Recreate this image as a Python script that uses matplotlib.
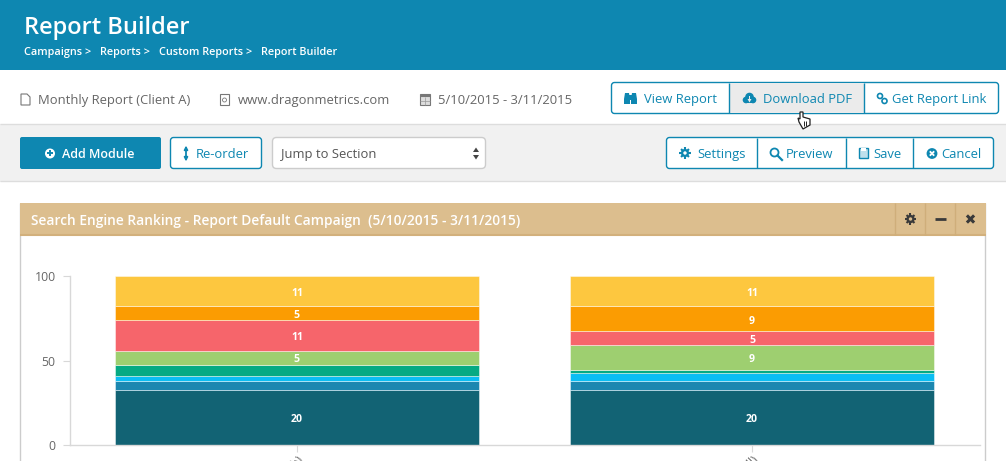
import matplotlib
matplotlib.use("Agg")
import matplotlib.pyplot as plt
from matplotlib.patches import Rectangle, FancyBboxPatch, Circle, Polygon
import numpy as np

W, H = 1006, 461
plt.rcParams['font.family'] = ['Open Sans', 'DejaVu Sans']

categories = ['(Both)', '(All)']
series_counts = [
    [20, 20], [3, 3], [2, 3], [4, 1], [5, 9], [11, 5], [5, 9], [11, 11],
]
series_colors = ['#126374', '#1b87b0', '#0abdf3', '#06aa83', '#9ecf70', '#f6656b', '#fb9c02', '#fdc73f']
y_ticks = [0, 50, 100]

BLUE = '#0e87b1'
fig = plt.figure(figsize=(W/100, H/100), dpi=100, facecolor='white')
ui = fig.add_axes([0, 0, 1, 1])
ui.set_xlim(0, W); ui.set_ylim(H, 0); ui.axis('off')

def rect(x, y, w, h, fc, ec='none', lw=0, z=1):
    ui.add_patch(Rectangle((x, y), w, h, fc=fc, ec=ec, lw=lw, zorder=z))
def rrect(x, y, w, h, fc, ec='none', lw=1, r=3, z=2):
    ui.add_patch(FancyBboxPatch((x+r, y+r), w-2*r, h-2*r, boxstyle=f'round,pad={r},rounding_size={r}',
                                fc=fc, ec=ec, lw=lw, zorder=z))
def txt(x, y, s, size, color, weight='normal', ha='left', z=5):
    ui.text(x, y, s, fontsize=size, color=color, fontweight=weight, ha=ha, va='center', zorder=z)
def vline(x, y0, y1, c=BLUE, lw=1, z=4):
    ui.plot([x, x], [y0, y1], color=c, lw=lw, zorder=z, solid_capstyle='butt')
def hline(y, x0, x1, c, lw=1, z=3):
    ui.plot([x0, x1], [y, y], color=c, lw=lw, zorder=z, solid_capstyle='butt')
def circ(x, y, r, fc, z=5, ec='none', lw=0):
    ui.add_patch(Circle((x, y), r, fc=fc, ec=ec, lw=lw, zorder=z))
def gear(x, y, color, hole):
    circ(x, y, 4.1, color)
    for a in np.deg2rad([0, 45, 90, 135]):
        dx, dy = 5.6*np.cos(a), 5.6*np.sin(a)
        ui.plot([x-dx, x+dx], [y-dy, y+dy], color=color, lw=1.5, zorder=5, solid_capstyle='butt')
    circ(x, y, 1.7, hole, z=6)
def xmark(x, y, r, color, lw, z=6):
    ui.plot([x-r, x+r], [y-r, y+r], color=color, lw=lw, zorder=z, solid_capstyle='butt')
    ui.plot([x-r, x+r], [y+r, y-r], color=color, lw=lw, zorder=z, solid_capstyle='butt')

# header
rect(0, 0, W, 70, BLUE)
txt(24, 28.5, 'Report Builder', 17.0, 'white', 'semibold')
for x, s in [(24, 'Campaigns >'), (100, 'Reports >'), (159, 'Custom Reports >'), (261, 'Report Builder')]:
    txt(x, 52, s, 7.8, 'white', 'semibold')

# info row
GREY = '#666666'
ui.add_patch(Polygon([(21, 94), (27, 94), (30, 97), (30, 105), (21, 105)], closed=True, fc='white', ec='#777777', lw=0.8, zorder=3))
txt(38, 100.5, 'Monthly Report (Client A)', 9.35, GREY)
ui.add_patch(Rectangle((220, 94), 9, 11, fc='white', ec='#777777', lw=0.8, zorder=3))
circ(224.5, 100, 2, 'none', ec='#777777', lw=0.6)
txt(238, 100.5, 'www.dragonmetrics.com', 9.35, GREY)
ui.add_patch(Rectangle((420, 94), 10, 11, fc='#dddddd', ec='#777777', lw=0.8, zorder=3))
hline(96.5, 420, 430, '#777777', 1.5, 4)
vline(425, 97, 105, '#999999', 0.5); hline(101, 420, 430, '#999999', 0.5, 4)
txt(438, 100.5, '5/10/2015 - 3/11/2015', 9.35, GREY)

# button group top
rrect(611.5, 82.5, 387, 31, 'white', BLUE)
rect(730, 83, 134, 30, '#ebebeb', z=3)
vline(729.5, 83, 113); vline(864.5, 83, 113)
txt(644, 99.5, 'View Report', 9.35, BLUE)
txt(763, 99.5, 'Download PDF', 9.35, BLUE)
txt(892, 99.5, 'Get Report Link', 9.35, BLUE)
# binoculars
ui.add_patch(Polygon([(625, 93), (629, 93), (630, 99), (630, 104), (624, 104), (624, 99)], fc=BLUE, zorder=5))
ui.add_patch(Polygon([(632, 93), (636, 93), (637, 99), (637, 104), (631, 104), (631, 99)], fc=BLUE, zorder=5))
rect(629, 95, 3, 5, BLUE, z=5)
# cloud download
circ(746, 100, 3.3, BLUE); circ(753, 100, 3.3, BLUE); circ(749.5, 97, 4.3, BLUE); rect(746, 100, 7, 3.3, BLUE, z=5)
ui.add_patch(Polygon([(747.5, 99), (751.5, 99), (749.5, 102.5)], fc='#ebebeb', zorder=6))
rect(748.7, 96, 1.6, 3.5, '#ebebeb', z=6)
# link
circ(880, 96, 2.5, 'none', ec=BLUE, lw=1.2); circ(884.5, 101, 2.5, 'none', ec=BLUE, lw=1.2)
# hand cursor
ui.add_patch(Polygon([(800, 112), (803, 112), (803, 117), (810, 119), (810, 125), (803, 129), (799, 122), (798, 118), (800, 119)],
                     closed=True, fc='white', ec='#222222', lw=0.9, zorder=7))
vline(804, 121, 126, '#222222', 0.7, 8); vline(806.5, 121, 126, '#222222', 0.7, 8)

# toolbar
rect(0, 124, W, 58, '#f1f1f1')
hline(124.5, 0, W, '#dddddd'); hline(181.5, 0, W, '#dddddd')
rrect(20, 137, 141, 32, BLUE, r=2)
circ(50, 153.5, 5, 'white')
hline(153.5, 47, 53, BLUE, 1.4, 6); vline(50, 150.5, 156.5, BLUE, 1.4, 6)
txt(62, 154, 'Add Module', 9.0, 'white', 'semibold')
rrect(170.5, 137.5, 91, 31, 'white', BLUE)
ui.annotate('', xy=(186, 145.5), xytext=(186, 161.5),
            arrowprops=dict(arrowstyle='<|-|>', color=BLUE, lw=1.3, mutation_scale=5, shrinkA=0, shrinkB=0), zorder=5)
txt(196, 154, 'Re-order', 9.35, BLUE)
rrect(272.5, 137.5, 213, 31, 'white', '#cccccc', r=4)
txt(281, 154, 'Jump to Section', 9.35, '#555555')
ui.add_patch(Polygon([(473, 152), (479, 152), (476, 147.5)], fc='#444444', zorder=5))
ui.add_patch(Polygon([(473, 155), (479, 155), (476, 159.5)], fc='#444444', zorder=5))

rrect(666.5, 137.5, 327, 31, 'white', BLUE)
for x in (757.5, 846.5, 913.5):
    vline(x, 138, 168)
txt(697, 154, 'Settings', 9.35, BLUE)
txt(786, 154, 'Preview', 9.4, BLUE)
txt(873, 154, 'Save', 9.35, BLUE)
txt(941, 154, 'Cancel', 9.35, BLUE)
gear(685, 153, BLUE, 'white')
circ(774.5, 152.5, 4, 'none', ec=BLUE, lw=1.3)
ui.plot([777.5, 782], [155.5, 160], color=BLUE, lw=1.6, zorder=5)
ui.add_patch(Rectangle((859, 148), 9, 10, fc='#bfe0ec', ec=BLUE, lw=1, zorder=5))
rect(861, 148, 5, 3, 'white', z=6)
circ(932, 153.5, 5.4, BLUE)
xmark(932, 153.5, 2.2, 'white', 1.3)

# panel
rect(20, 236, 966, 225, 'white')
vline(20.5, 203, H, '#cccccc', 1, 2); vline(985.5, 203, H, '#cccccc', 1, 2)
rect(20, 202.5, 966, 33, '#dcbe8e', z=3)
hline(235, 20, 986, '#d2b07c', 1.5, 4)
txt(31, 221, 'Search Engine Ranking - Report Default Campaign  (5/10/2015 - 3/11/2015)', 9.9, 'white', 'semibold')
for x in (895.5, 925.5, 955.5):
    vline(x, 203, 235, '#cfae7a')
ICON = '#3a3a3a'
gear(910.5, 219, ICON, '#dcbe8e')
hline(219, 935, 946, ICON, 2, 5)
xmark(970.5, 219, 3.6, ICON, 2.2)

# chart
ax_left, ax_right, ax_top, ax_bot = 69.5, 979.5, 276, 445
ax = fig.add_axes([ax_left/W, 1-ax_bot/H, (ax_right-ax_left)/W, (ax_bot-ax_top)/H], facecolor='none')
ax.set_xlim(-0.5, 1.5); ax.set_ylim(0, 100)
counts = np.array(series_counts, dtype=float)
pct = counts / counts.sum(axis=0) * 100
xs = np.arange(len(categories))
bottom = np.zeros(len(categories))
for i, row in enumerate(pct):
    ax.bar(xs, row, 0.802, bottom=bottom, color=series_colors[i], edgecolor=(1, 1, 1, 0.45), linewidth=0.7)
    for j, v in enumerate(row):
        if counts[i, j] >= 5:
            ax.annotate(f'{int(counts[i, j])}', (xs[j], bottom[j]+v/2), xytext=(0, -1.5), textcoords='offset points',
                        color='white', fontsize=7.6, fontweight='bold', ha='center', va='center')
    bottom += row
for s in ('top', 'right'):
    ax.spines[s].set_visible(False)
for s in ('left', 'bottom'):
    ax.spines[s].set_color('#d8d8d8'); ax.spines[s].set_linewidth(1)
ax.set_yticks(y_ticks)
ax.set_xticks(xs)
ax.set_xticklabels(categories, rotation=45, ha='right', rotation_mode='anchor', fontsize=8.5, color='#666666')
ax.tick_params(axis='y', length=5, color='#d8d8d8', labelsize=8.8, labelcolor='#666666', pad=5)
ax.tick_params(axis='x', length=5, color='#d8d8d8', pad=1)
fig.savefig('out.png', dpi=100)
